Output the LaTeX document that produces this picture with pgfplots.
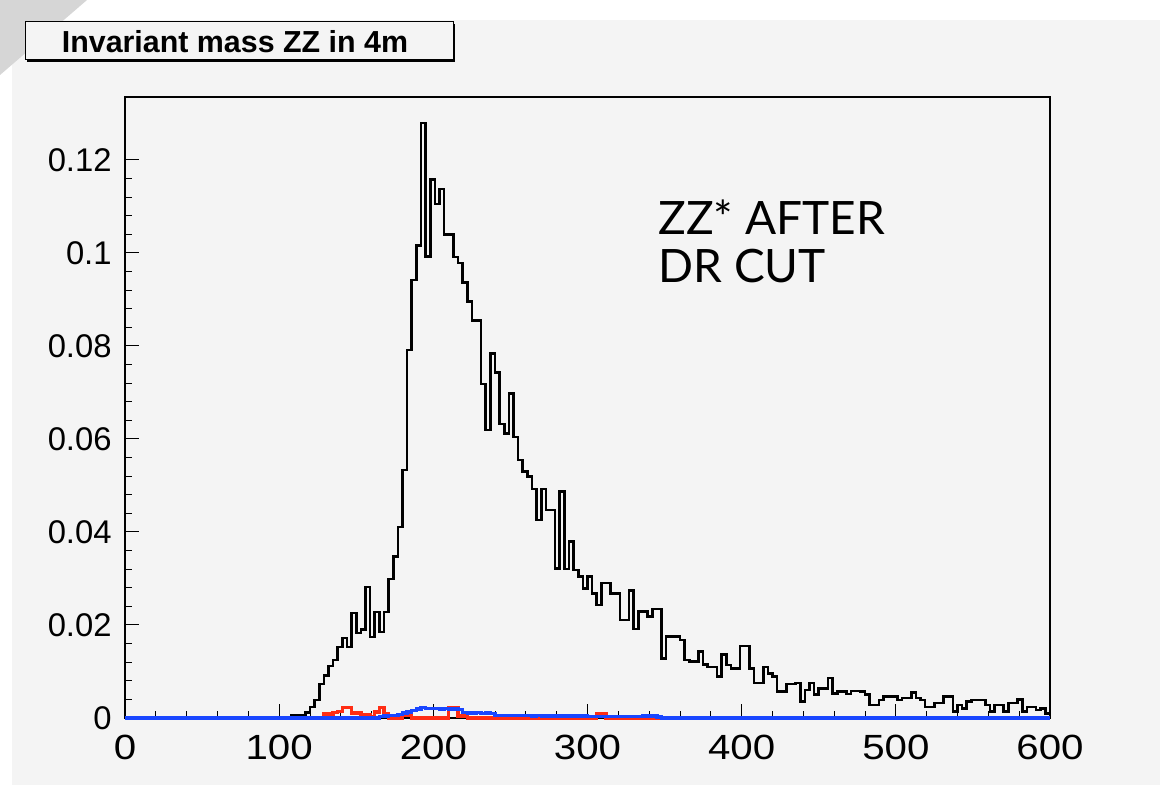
\documentclass[border=0pt]{standalone}
\usepackage{fontspec}
\setmainfont{Liberation Sans}
\newfontfamily\gill{Lato}
\usepackage{graphicx}
\usepackage{pgfplots}
\pgfplotsset{compat=1.18}
\definecolor{canvas}{RGB}{244,244,244}
\definecolor{tri}{RGB}{214,214,214}
\definecolor{rootred}{RGB}{255,45,20}
\definecolor{rootblue}{RGB}{25,70,255}
\begin{document}
\begin{tikzpicture}
\path[use as bounding box, fill=white] (0,0) rectangle (582.5pt,-392.5pt);
\fill[canvas] (6pt,-10pt) rectangle (580pt,-392.5pt);
\fill[tri] (0,0) -- (43.5pt,0) -- (0,-37.5pt) -- cycle;
% title box with shadow
\fill[black] (13.7pt,-12.2pt) rectangle (227.7pt,-31.2pt);
\filldraw[fill=canvas, draw=black, line width=0.5pt] (12.5pt,-11pt) rectangle (226.5pt,-30pt);
\node[anchor=base, inner sep=0pt, font=\fontsize{15.2}{18}\selectfont\bfseries] at (117.5pt,-26.5pt) {Invariant mass ZZ in 4m};
\begin{axis}[
  at={(62.5pt,-359pt)}, anchor=south west,
  scale only axis, width=462.5pt, height=310.5pt,
  xmin=0, xmax=600, ymin=0, ymax=0.1335,
  axis line style={line width=0.6pt},
  axis background/.style={fill=canvas},
  xtick={0,100,200,300,400,500,600}, minor x tick num=4,
  ytick={0,0.02,0.04,0.06,0.08,0.1,0.12}, minor y tick num=4,
  xticklabels={\scalebox{1.15}[1]{0},\scalebox{1.15}[1]{100},\scalebox{1.15}[1]{200},\scalebox{1.15}[1]{300},\scalebox{1.15}[1]{400},\scalebox{1.15}[1]{500},\scalebox{1.15}[1]{600}},
  yticklabels={0,0.02,0.04,0.06,0.08,0.1,0.12},
  tick align=inside, xtick pos=bottom, ytick pos=left,
  major tick length=7pt, minor tick length=3.5pt,
  every tick/.style={black, line width=0.5pt},
  xticklabel style={font=\fontsize{17.5}{17}\selectfont, inner sep=0pt, anchor=north, yshift=-8.5pt},
  yticklabel style={font=\fontsize{16.4}{17}\selectfont, inner sep=0pt, anchor=east, xshift=-6.5pt},
  clip=false,
]
\addplot[const plot, black, line width=1.3pt, no marks] coordinates {
(0,0)(108,0.0006)(111,0.0006)(114,0.0006)(117,0.0012)(120,0.0024)(123,0.0039)(126,0.0073)(129,0.0092)(132,0.0112)(135,0.0125)(138,0.0153)(141,0.0172)(144,0.0153)(147,0.0226)(150,0.0183)(153,0.0190)(156,0.0282)(159,0.0174)(162,0.0228)(165,0.0185)(168,0.0228)(171,0.0299)(174,0.0347)(177,0.0411)(180,0.0533)(183,0.0791)(186,0.0942)(189,0.1016)(192,0.1279)(195,0.0992)(198,0.1157)(201,0.1105)(204,0.1137)(207,0.1039)(210,0.1039)(213,0.0991)(216,0.0978)(219,0.0936)(222,0.0895)(225,0.0854)(228,0.0854)(231,0.0718)(234,0.0619)(237,0.0783)(240,0.0743)(243,0.0632)(246,0.0612)(249,0.0698)(252,0.0604)(255,0.0555)(258,0.0530)(261,0.0519)(264,0.0492)(267,0.0426)(270,0.0492)(273,0.0447)(276,0.0447)(279,0.0322)(282,0.0487)(285,0.0320)(288,0.0379)(291,0.0318)(294,0.0304)(297,0.0279)(300,0.0304)(303,0.0268)(306,0.0243)(309,0.0290)(312,0.0290)(315,0.0268)(318,0.0268)(321,0.0211)(324,0.0211)(327,0.0274)(330,0.0191)(333,0.0229)(336,0.0229)(339,0.0218)(342,0.0234)(345,0.0234)(348,0.0128)(351,0.0175)(354,0.0175)(357,0.0175)(360,0.0168)(363,0.0125)(366,0.0121)(369,0.0121)(372,0.0143)(375,0.0115)(378,0.0110)(381,0.0110)(384,0.0089)(387,0.0136)(390,0.0114)(393,0.0107)(396,0.0107)(399,0.0155)(402,0.0155)(405,0.0107)(408,0.0075)(411,0.0075)(414,0.0110)(417,0.0096)(420,0.0089)(423,0.0057)(426,0.0057)(429,0.0073)(432,0.0073)(435,0.0075)(438,0.0035)(441,0.0060)(444,0.0075)(447,0.0050)(450,0.0064)(453,0.0064)(456,0.0086)(459,0.0053)(462,0.0057)(465,0.0057)(468,0.0052)(471,0.0058)(474,0.0058)(477,0.0057)(480,0.0050)(483,0.0028)(486,0.0028)(489,0.0039)(492,0.0046)(495,0.0046)(498,0.0046)(501,0.0039)(504,0.0043)(507,0.0043)(510,0.0055)(513,0.0043)(516,0.0039)(519,0.0024)(522,0.0024)(525,0.0032)(528,0.0032)(531,0.0046)(534,0.0046)(537,0.0014)(540,0.0028)(543,0.0021)(546,0.0035)(549,0.0039)(552,0.0039)(555,0.0039)(558,0.0028)(561,0.0014)(564,0.0028)(567,0.0028)(570,0.0014)(573,0.0032)(576,0.0032)(579,0.0040)(582,0.0014)(585,0.0024)(588,0.0024)(591,0.0017)(594,0.0021)(597,0.0010)(600,0.0010)
};
\addplot[const plot, rootred, line width=1.7pt, no marks] coordinates {
(0,0)(129,0.0009)(132,0.0009)(135,0.0012)(138,0.0014)(141,0.0023)(144,0.0023)(147,0.0011)(150,0.0011)(153,0.0008)(156,0.0008)(159,0.0002)(162,0.0013)(165,0.0023)(168,0.0009)(171,0)(180,0.0006)(183,0.0006)(186,0)(210,0.0022)(213,0.0022)(216,0.0004)(219,0.0004)(222,0)(306,0.0010)(309,0.0010)(312,0)(600,0)
};
\addplot[const plot, rootblue, line width=1.7pt, no marks] coordinates {
(0,0)(165,0.0003)(168,0.0004)(171,0.0005)(174,0.0006)(177,0.0008)(180,0.0011)(183,0.0013)(186,0.0016)(189,0.0019)(192,0.0022)(195,0.0021)(198,0.0020)(201,0.0020)(204,0.0019)(207,0.0020)(210,0.0019)(213,0.0019)(216,0.0018)(219,0.0012)(222,0.0011)(225,0.0011)(228,0.0012)(231,0.0010)(234,0.0011)(237,0.0010)(240,0.0006)(243,0.0006)(246,0.0005)(249,0.0006)(252,0.0005)(255,0.0005)(258,0.0006)(261,0.0005)(264,0.0004)(267,0.0005)(270,0.0004)(273,0.0004)(300,0.0003)(336,0.0004)(345,0.0002)(348,0)(600,0)
};
\end{axis}
\node[anchor=base west, inner sep=0pt, font=\gill\fontsize{23}{24}\selectfont] at (329pt,-117.5pt) {ZZ* AFTER};
\node[anchor=base west, inner sep=0pt, font=\gill\fontsize{23}{24}\selectfont] at (329pt,-141.5pt) {DR CUT};
\end{tikzpicture}
\end{document}
